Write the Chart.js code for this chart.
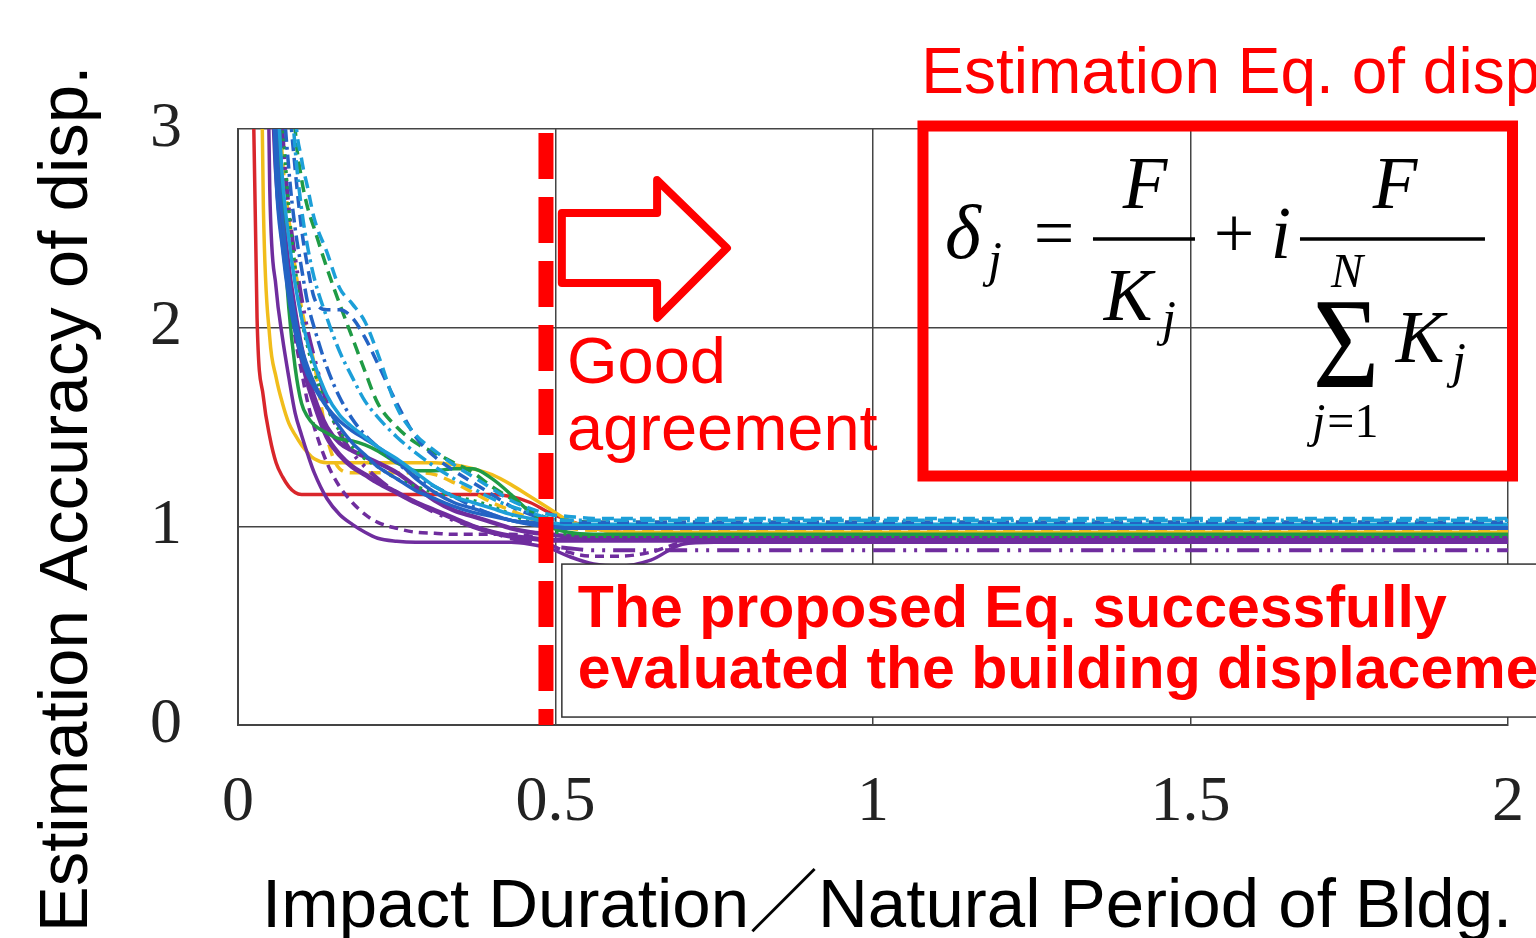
<!DOCTYPE html>
<html>
<head>
<meta charset="utf-8">
<script src="https://cdn.jsdelivr.net/npm/chart.js@4.4.1/dist/chart.umd.min.js"></script>
<style>
  html, body { margin: 0; padding: 0; background: #fff; }
  canvas { display: block; }
</style>
</head>
<body>
<canvas id="chart" width="1536" height="938"></canvas>
<script>
// =====================
// DATA
// =====================

// Impact duration / natural period (shared x grid)
const X = [0.02, 0.03, 0.04, 0.05, 0.06, 0.07, 0.08, 0.09, 0.10, 0.11,
           0.12, 0.14, 0.16, 0.18, 0.20, 0.22, 0.25, 0.28, 0.31, 0.34,
           0.37, 0.40, 0.43, 0.46, 0.49, 0.52, 0.56, 0.60, 0.65, 0.70,
           0.75, 0.80, 1.00, 1.25, 1.50, 1.75, 2.00];

const redSolid = [4.00, 2.05, 1.65, 1.45, 1.32, 1.25, 1.20, 1.17, 1.16, 1.16,
                  1.16, 1.16, 1.16, 1.16, 1.16, 1.16, 1.16, 1.16, 1.16, 1.16,
                  1.16, 1.16, 1.15, 1.12, 1.07, 1.03, 0.99, 0.97, 0.96, 0.96,
                  0.96, 0.96, 0.96, 0.96, 0.96, 0.96, 0.96];

const yellowSolid = [null, 5.00, 2.60, 1.95, 1.75, 1.62, 1.52, 1.46, 1.41, 1.37,
                     1.34, 1.32, 1.32, 1.32, 1.32, 1.32, 1.32, 1.32, 1.32, 1.31,
                     1.29, 1.26, 1.21, 1.15, 1.09, 1.03, 0.99, 0.97, 0.97, 0.97,
                     0.97, 0.97, 0.97, 0.97, 0.97, 0.97, 0.97];

const yellowDash = [null, null, null, null, 3.40, 2.85, 2.55, 2.30, 2.10, 1.95,
                    1.82, 1.45, 1.29, 1.27, 1.27, 1.27, 1.27, 1.27, 1.26, 1.22,
                    1.17, 1.12, 1.08, 1.04, 1.00, 0.99, 0.98, 0.98, 0.98, 0.98,
                    0.98, 0.98, 0.98, 0.98, 0.98, 0.98, 0.98];

const purpleLow = [null, null, 5.00, 2.70, 2.20, 1.95, 1.75, 1.57, 1.46, 1.36,
                   1.27, 1.14, 1.06, 1.01, 0.97, 0.94, 0.925, 0.92, 0.92, 0.92,
                   0.92, 0.92, 0.92, 0.91, 0.89, 0.85, 0.81, 0.80, 0.83, 0.91,
                   0.92, 0.92, 0.92, 0.92, 0.92, 0.92, 0.92];

const purpleDash = [null, null, null, 4.00, 3.00, 2.50, 2.20, 1.95, 1.78, 1.62,
                    1.50, 1.32, 1.20, 1.12, 1.06, 1.02, 0.99, 0.97, 0.965, 0.96,
                    0.96, 0.96, 0.96, 0.95, 0.91, 0.87, 0.85, 0.85, 0.87, 0.92,
                    0.93, 0.93, 0.93, 0.93, 0.93, 0.93, 0.93];

const purpleThick = [null, null, null, 3.60, 2.80, 2.45, 2.20, 2.00, 1.85, 1.72,
                     1.62, 1.45, 1.36, 1.30, 1.26, 1.22, 1.17, 1.12, 1.08, 1.04,
                     1.00, 0.97, 0.95, 0.94, 0.93, 0.93, 0.93, 0.93, 0.93, 0.93,
                     0.93, 0.93, 0.93, 0.93, 0.93, 0.93, 0.93];

const purpleDashDot = [null, null, null, null, 3.80, 3.00, 2.60, 2.35, 2.15, 1.98,
                       1.85, 1.62, 1.47, 1.37, 1.30, 1.24, 1.17, 1.12, 1.07, 1.03,
                       1.00, 0.97, 0.94, 0.92, 0.90, 0.89, 0.88, 0.88, 0.88, 0.88,
                       0.88, 0.88, 0.88, 0.88, 0.88, 0.88, 0.88];

const purpleSolid = [null, null, null, 4.50, 3.10, 2.60, 2.30, 2.08, 1.90, 1.76,
                     1.65, 1.50, 1.42, 1.38, 1.35, 1.32, 1.27, 1.20, 1.13, 1.08,
                     1.05, 1.02, 0.99, 0.97, 0.96, 0.95, 0.95, 0.95, 0.95, 0.95,
                     0.95, 0.95, 0.95, 0.95, 0.95, 0.95, 0.95];

const greenSolid = [null, null, null, null, 3.50, 2.60, 2.10, 1.80, 1.62, 1.55,
                    1.51, 1.47, 1.44, 1.43, 1.41, 1.38, 1.32, 1.28, 1.28, 1.29,
                    1.29, 1.24, 1.16, 1.07, 1.00, 0.97, 0.96, 0.96, 0.96, 0.96,
                    0.96, 0.96, 0.96, 0.96, 0.96, 0.96, 0.96];

const greenDash = [null, null, null, null, null, null, 3.60, 3.00, 2.75, 2.60,
                   2.50, 2.30, 2.12, 1.95, 1.78, 1.62, 1.50, 1.42, 1.37, 1.32,
                   1.27, 1.20, 1.14, 1.08, 1.04, 1.03, 1.02, 1.02, 1.02, 1.02,
                   1.02, 1.02, 1.02, 1.02, 1.02, 1.02, 1.02];

const greenDot = [null, null, null, null, 4.00, 3.10, 2.60, 2.30, 2.05, 1.90,
                  1.78, 1.60, 1.48, 1.40, 1.34, 1.30, 1.24, 1.20, 1.17, 1.15,
                  1.13, 1.10, 1.06, 1.02, 0.98, 0.96, 0.95, 0.95, 0.95, 0.95,
                  0.95, 0.95, 0.95, 0.95, 0.95, 0.95, 0.95];

const blueSolid = [null, null, null, 3.80, 2.75, 2.40, 2.15, 1.98, 1.85, 1.76,
                   1.70, 1.60, 1.53, 1.48, 1.44, 1.40, 1.33, 1.24, 1.17, 1.12,
                   1.09, 1.06, 1.03, 1.02, 1.01, 1.00, 1.00, 1.00, 1.00, 1.00,
                   1.00, 1.00, 1.00, 1.00, 1.00, 1.00, 1.00];

const blueDash = [null, null, null, null, null, 4.00, 3.20, 2.80, 2.50, 2.30,
                  2.15, 2.09, 2.09, 2.05, 1.95, 1.82, 1.62, 1.45, 1.35, 1.28,
                  1.22, 1.16, 1.10, 1.06, 1.03, 1.02, 1.02, 1.02, 1.02, 1.02,
                  1.02, 1.02, 1.02, 1.02, 1.02, 1.02, 1.02];

const blueSolid2 = [null, null, null, 4.20, 3.00, 2.55, 2.25, 2.05, 1.90, 1.80,
                    1.72, 1.60, 1.50, 1.42, 1.36, 1.30, 1.24, 1.18, 1.14, 1.10,
                    1.07, 1.05, 1.03, 1.01, 1.00, 0.99, 0.99, 0.99, 0.99, 0.99,
                    0.99, 0.99, 0.99, 0.99, 0.99, 0.99, 0.99];

const blueDashDot = [null, null, null, null, 4.50, 3.30, 2.80, 2.50, 2.30, 2.12,
                     2.00, 1.80, 1.65, 1.54, 1.46, 1.40, 1.32, 1.25, 1.20, 1.15,
                     1.10, 1.06, 1.03, 1.01, 1.00, 1.00, 1.00, 1.00, 1.00, 1.00,
                     1.00, 1.00, 1.00, 1.00, 1.00, 1.00, 1.00];

const cyanSolid = [null, null, null, null, 3.30, 2.75, 2.45, 2.22, 2.05, 1.92,
                   1.82, 1.66, 1.56, 1.50, 1.45, 1.40, 1.34, 1.27, 1.20, 1.15,
                   1.12, 1.09, 1.06, 1.04, 1.02, 1.01, 1.01, 1.01, 1.01, 1.01,
                   1.01, 1.01, 1.01, 1.01, 1.01, 1.01, 1.01];

const cyanDash = [null, null, null, null, null, null, 4.00, 3.10, 2.85, 2.70,
                  2.55, 2.38, 2.20, 2.12, 2.03, 1.87, 1.60, 1.46, 1.38, 1.31,
                  1.25, 1.19, 1.13, 1.09, 1.06, 1.05, 1.04, 1.04, 1.04, 1.04,
                  1.04, 1.04, 1.04, 1.04, 1.04, 1.04, 1.04];

const cyanDashDot = [null, null, null, null, null, 4.20, 3.40, 2.90, 2.60, 2.40,
                     2.25, 2.05, 1.88, 1.75, 1.63, 1.55, 1.45, 1.37, 1.30, 1.24,
                     1.19, 1.14, 1.10, 1.07, 1.04, 1.03, 1.03, 1.03, 1.03, 1.03,
                     1.03, 1.03, 1.03, 1.03, 1.03, 1.03, 1.03];

// "good agreement" limit (red dashed line)
const goodLimit = 0.485;

const xTickValues = [0, 0.5, 1, 1.5, 2];
const yTickValues = [0, 1, 2, 3];

// texts
const xTitle = 'Impact Duration／Natural Period of Bldg.';
const yTitle = 'Estimation Accuracy of disp.';
const eqTitle = 'Estimation Eq. of disp.';
const goodLines = ['Good', 'agreement'];
const noteLines = ['The proposed Eq. successfully', 'evaluated the building displacement.'];

// =====================
// STYLES
// =====================

const SERIF = '"Liberation Serif", "Times New Roman", serif';
const SANS = '"Liberation Sans", Arial, "Noto Sans CJK JP", sans-serif';

const RED = '#d9262b', YEL = '#f1bd1b', PUR = '#6f2d9e';
const GRN = '#1f9b45', BLU = '#2463c4', LBL = '#1c9fd8';
const DASH = [12, 7], DASHDOT = [14, 5, 3, 5], DOT = [3, 5];

const series = [
  { data: cyanDash,      color: LBL, dash: DASH,    width: 3.5 },
  { data: cyanDashDot,   color: LBL, dash: DASHDOT, width: 3.5 },
  { data: blueDash,      color: BLU, dash: DASH,    width: 3.5 },
  { data: greenDash,     color: GRN, dash: DASH,    width: 3.5 },
  { data: cyanSolid,     color: LBL, dash: [],      width: 3.5 },
  { data: blueDashDot,   color: BLU, dash: DASHDOT, width: 3.5 },
  { data: blueSolid,     color: BLU, dash: [],      width: 3.5 },
  { data: blueSolid2,    color: BLU, dash: [],      width: 3.5 },
  { data: greenDot,      color: GRN, dash: DOT,     width: 3.5 },
  { data: greenSolid,    color: GRN, dash: [],      width: 3.5 },
  { data: purpleDashDot, color: PUR, dash: [22, 8, 3, 8, 3, 8], width: 4 },
  { data: purpleSolid,   color: PUR, dash: [],      width: 4.5 },
  { data: purpleThick,   color: PUR, dash: [],      width: 5 },
  { data: purpleDash,    color: PUR, dash: [9, 6],  width: 3.5 },
  { data: purpleLow,     color: PUR, dash: [],      width: 3.5 },
  { data: yellowDash,    color: YEL, dash: DASH,    width: 3.5 },
  { data: yellowSolid,   color: YEL, dash: [],      width: 3.5 },
  { data: redSolid,      color: RED, dash: [],      width: 3.5 },
];

// =====================
// OVERLAY (annotations, titles)
// =====================

// positions in data units
const eqBox = { x0: 1.0787, x1: 2.0071, y0: 1.2533, y1: 3.015 };
const noteBox = { x0: 0.51, x1: 2.3, y0: 0.04, y1: 0.81 };
const arrowPts = [[0.510, 2.577], [0.660, 2.577], [0.660, 2.743], [0.770, 2.401],
                  [0.660, 2.049], [0.660, 2.225], [0.510, 2.225]];

function txt(ctx, s, x, y, font, align) {
  ctx.font = font;
  ctx.textAlign = align || 'left';
  ctx.fillText(s, x, y);
}

function drawFormula(ctx, ox, oy) {
  const it = size => 'italic ' + size + 'px ' + SERIF;
  const up = size => size + 'px ' + SERIF;
  ctx.fillStyle = '#000';
  ctx.strokeStyle = '#000';
  ctx.textBaseline = 'alphabetic';

  txt(ctx, 'δ', ox + 22, oy + 132, it(77));
  txt(ctx, 'j', ox + 65, oy + 150, it(50));
  txt(ctx, '=', ox + 131, oy + 131, up(72), 'center');

  ctx.lineWidth = 3.5;
  ctx.beginPath();
  ctx.moveTo(ox + 170, oy + 113); ctx.lineTo(ox + 272, oy + 113);
  ctx.moveTo(ox + 377, oy + 113); ctx.lineTo(ox + 562, oy + 113);
  ctx.stroke();

  txt(ctx, 'F', ox + 222, oy + 82, it(73), 'center');
  txt(ctx, 'K', ox + 205, oy + 194, it(73), 'center');
  txt(ctx, 'j', ox + 239, oy + 209, it(50));

  txt(ctx, '+', ox + 311, oy + 131, up(72), 'center');
  txt(ctx, 'i', ox + 358, oy + 132, it(73), 'center');

  txt(ctx, 'F', ox + 472, oy + 82, it(73), 'center');
  txt(ctx, 'N', ox + 424, oy + 161, it(48), 'center');

  ctx.save();
  ctx.translate(ox + 423, oy + 261);
  ctx.scale(0.88, 1);
  txt(ctx, 'Σ', 0, 0, up(130), 'center');
  ctx.restore();

  txt(ctx, 'K', ox + 497, oy + 236, it(73), 'center');
  txt(ctx, 'j', ox + 529, oy + 251, it(50));

  txt(ctx, 'j', ox + 389, oy + 311, it(48));
  ctx.font = it(48);
  const jw = ctx.measureText('j').width;
  txt(ctx, '=1', ox + 389 + jw + 2, oy + 311, up(48));
}

const overlayPlugin = {
  id: 'overlay',
  beforeDraw(chart) {
    const ctx = chart.ctx;
    ctx.save();
    ctx.fillStyle = '#fff';
    ctx.fillRect(0, 0, chart.width, chart.height);
    ctx.restore();
  },
  afterDraw(chart) {
    const ctx = chart.ctx;
    const sx = chart.scales.x, sy = chart.scales.y;
    const px = v => sx.getPixelForValue(v);
    const py = v => sy.getPixelForValue(v);
    ctx.save();
    ctx.textBaseline = 'alphabetic';

    // note box
    const nx0 = px(noteBox.x0), nx1 = px(noteBox.x1);
    const ny0 = py(noteBox.y1), ny1 = py(noteBox.y0);
    ctx.fillStyle = '#fff';
    ctx.fillRect(nx0, ny0, nx1 - nx0, ny1 - ny0);
    ctx.strokeStyle = '#333';
    ctx.lineWidth = 1.5;
    ctx.strokeRect(nx0, ny0, nx1 - nx0, ny1 - ny0);
    ctx.fillStyle = '#ff0000';
    txt(ctx, noteLines[0], nx0 + 16, ny0 + 63, 'bold 59px ' + SANS);
    txt(ctx, noteLines[1], nx0 + 16, ny0 + 124, 'bold 59px ' + SANS);

    // equation box
    const ex0 = px(eqBox.x0), ex1 = px(eqBox.x1);
    const ey0 = py(eqBox.y1), ey1 = py(eqBox.y0);
    ctx.strokeStyle = '#ff0000';
    ctx.lineWidth = 11;
    ctx.lineJoin = 'miter';
    ctx.strokeRect(ex0, ey0, ex1 - ex0, ey1 - ey0);
    drawFormula(ctx, ex0, ey0);

    // arrow
    ctx.strokeStyle = '#ff0000';
    ctx.lineWidth = 8;
    ctx.lineJoin = 'round';
    ctx.beginPath();
    arrowPts.forEach((p, i) => {
      if (i === 0) ctx.moveTo(px(p[0]), py(p[1]));
      else ctx.lineTo(px(p[0]), py(p[1]));
    });
    ctx.closePath();
    ctx.stroke();

    // red texts
    ctx.fillStyle = '#ff0000';
    txt(ctx, goodLines[0], px(0.518), py(1.72), '65px ' + SANS);
    txt(ctx, goodLines[1], px(0.518), py(1.384), '65px ' + SANS);
    txt(ctx, eqTitle, px(1.076), py(3.181), '64px ' + SANS);

    // axis titles
    ctx.fillStyle = '#000';
    txt(ctx, xTitle, chart.chartArea.left + 24, 927, '69px ' + SANS);
    ctx.translate(87, 499);
    ctx.rotate(-Math.PI / 2);
    txt(ctx, yTitle, 0, 0, '69px ' + SANS, 'center');

    ctx.restore();
  }
};

// =====================
// CHART
// =====================

const datasets = [
  {
    label: 'limit',
    data: [{ x: goodLimit, y: 3 }, { x: goodLimit, y: 0 }],
    borderColor: '#ff0000',
    borderWidth: 15,
    borderDash: [46, 18],
    borderDashOffset: 60,
    borderCapStyle: 'butt',
    pointRadius: 0,
    fill: false,
  },
  ...series.map((s, i) => ({
    label: 'case ' + (i + 1),
    data: X.map((x, j) => ({ x: x, y: s.data[j] })),
    borderColor: s.color,
    borderWidth: s.width,
    borderDash: s.dash,
    pointRadius: 0,
    fill: false,
    spanGaps: false,
    cubicInterpolationMode: 'monotone',
  })),
];

new Chart(document.getElementById('chart'), {
  type: 'line',
  data: { datasets: datasets },
  options: {
    responsive: false,
    animation: false,
    events: [],
    layout: { padding: { top: 129, right: 28, left: 0, bottom: 0 } },
    plugins: {
      legend: { display: false },
      tooltip: { enabled: false },
    },
    scales: {
      x: {
        type: 'linear',
        min: 0,
        max: 2,
        afterFit: s => {
          s.height = 213;
          s.paddingLeft = 0;
          s.paddingRight = 0;
        },
        afterBuildTicks: s => { s.ticks = xTickValues.map(v => ({ value: v })); },
        ticks: {
          color: '#222',
          padding: 40,
          maxRotation: 0,
          font: { family: SERIF, size: 64 },
          callback: v => String(v),
        },
        grid: { color: '#444', lineWidth: 1.5, drawTicks: false },
        border: { display: true, color: '#444', width: 2 },
      },
      y: {
        type: 'linear',
        min: 0,
        max: 3,
        afterFit: s => {
          s.width = 238;
          s.paddingTop = 0;
          s.paddingBottom = 0;
        },
        afterBuildTicks: s => { s.ticks = yTickValues.map(v => ({ value: v })); },
        ticks: {
          color: '#222',
          padding: 56,
          font: { family: SERIF, size: 64 },
          callback: v => String(v),
        },
        grid: { color: '#444', lineWidth: 1.5, drawTicks: false },
        border: { display: true, color: '#444', width: 2 },
      },
    },
  },
  plugins: [overlayPlugin],
});
</script>
</body>
</html>
